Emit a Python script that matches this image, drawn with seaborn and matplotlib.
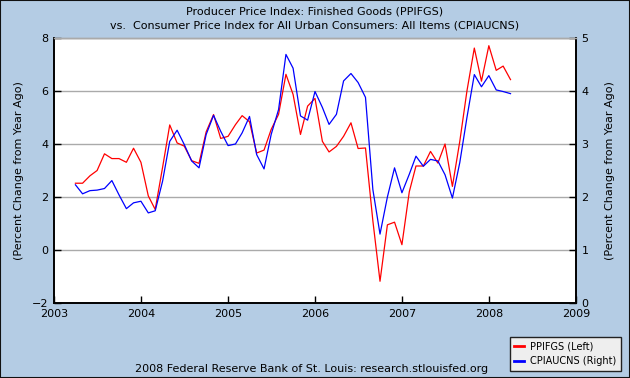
import matplotlib
matplotlib.use("Agg")
import matplotlib.pyplot as plt
import matplotlib.dates as mdates
from matplotlib.patches import Rectangle
from matplotlib.lines import Line2D
import pandas as pd
import seaborn as sns

# Monthly data, April 2003 .. April 2008 (percent change from year ago)
months = pd.date_range("2003-04-01", periods=61, freq="MS")

ppifgs = [2.52, 2.52, 2.80, 3.00, 3.63, 3.45, 3.45, 3.31, 3.84, 3.31,
          2.04, 1.53, 3.12, 4.72, 4.04, 3.92, 3.37, 3.27, 4.46, 5.11,
          4.21, 4.29, 4.73, 5.07, 4.84, 3.66, 3.77, 4.55, 5.12, 6.63,
          5.87, 4.36, 5.43, 5.72, 4.10, 3.70, 3.91, 4.29, 4.80, 3.83,
          3.85, 1.10, -1.18, 0.95, 1.05, 0.20, 2.20, 3.17, 3.17, 3.72,
          3.28, 4.00, 2.40, 4.10, 6.00, 7.62, 6.37, 7.71, 6.78, 6.94,
          6.43]

cpiaucns = [2.23, 2.06, 2.12, 2.13, 2.16, 2.31, 2.04, 1.78, 1.89, 1.92,
            1.70, 1.74, 2.30, 3.05, 3.26, 2.99, 2.68, 2.55, 3.18, 3.54,
            3.24, 2.97, 3.00, 3.21, 3.52, 2.80, 2.53, 3.18, 3.65, 4.69,
            4.43, 3.53, 3.45, 3.99, 3.69, 3.37, 3.56, 4.19, 4.33, 4.16,
            3.88, 2.14, 1.30, 2.00, 2.55, 2.08, 2.43, 2.77, 2.58, 2.71,
            2.68, 2.42, 1.98, 2.65, 3.50, 4.31, 4.08, 4.29, 4.02, 3.99,
            3.95]

left_ticks = [-2, 0, 2, 4, 6, 8]
right_ticks = [0, 1, 2, 3, 4, 5]
year_ticks = [str(y) for y in range(2003, 2010)]

BG = "#b4cce4"
GRID = "#aaaaaa"

df = pd.DataFrame({"date": months, "PPIFGS": ppifgs, "CPIAUCNS": cpiaucns})

plt.rcParams["font.family"] = ["DejaVu Sans"]
fig = plt.figure(figsize=(6.3, 3.78), dpi=100, facecolor=BG)
ax = fig.add_axes([54 / 630, 75 / 378, 522 / 630, 265 / 378])
ax.set_facecolor("white")
ax2 = ax.twinx()

sns.lineplot(data=df, x="date", y="PPIFGS", ax=ax, color="#ff0000", lw=0.9)
sns.lineplot(data=df, x="date", y="CPIAUCNS", ax=ax2, color="#0000ff", lw=0.9)

ax.set_ylim(-2, 8)
ax2.set_ylim(0, 5)
ax.set_yticks(left_ticks)
ax2.set_yticks(right_ticks)
ax.set_xlim(pd.Timestamp("2003-01-01"), pd.Timestamp("2009-01-01"))
ax.set_xticks([pd.Timestamp(f"{y}-01-01") for y in year_ticks])
ax.xaxis.set_major_formatter(mdates.DateFormatter("%Y"))

ax.yaxis.grid(True, color=GRID, lw=1.0)
ax.set_axisbelow(True)

for a in (ax, ax2):
    a.tick_params(direction="in", length=5, width=1, labelsize=8, pad=4)
    a.set_xlabel("")
    for side in ("left", "right", "bottom"):
        a.spines[side].set_linewidth(1.2)
        a.spines[side].set_edgecolor("black")
    a.spines["top"].set_edgecolor(GRID)
    a.spines["top"].set_linewidth(1.0)

ax.set_ylabel("(Percent Change from Year Ago)", fontsize=8, labelpad=6)
ax2.set_ylabel("(Percent Change from Year Ago)", fontsize=8, labelpad=12)

fig.text(0.5, 1 - 11 / 378, "Producer Price Index: Finished Goods (PPIFGS)",
         ha="center", va="center", fontsize=8)
fig.text(0.5, 1 - 25 / 378,
         "vs.  Consumer Price Index for All Urban Consumers: All Items (CPIAUCNS)",
         ha="center", va="center", fontsize=8)
fig.text(0.495, 1 - 369 / 378,
         "2008 Federal Reserve Bank of St. Louis: research.stlouisfed.org",
         ha="center", va="center", fontsize=8)

handles = [Line2D([], [], color="#ff0000", lw=2),
           Line2D([], [], color="#0000ff", lw=2)]
leg = fig.legend(handles, ["PPIFGS (Left)", "CPIAUCNS (Right)"],
                 loc="lower right", bbox_to_anchor=(626 / 630, 2 / 378),
                 fontsize=7, handlelength=1.0, handletextpad=0.6,
                 frameon=True, fancybox=False, borderpad=0.5, labelspacing=0.5)
leg.get_frame().set_facecolor("#eeeeee")
leg.get_frame().set_edgecolor("#222222")
leg.get_frame().set_alpha(1)

fig.patches.append(Rectangle((0, 0), 1, 1, transform=fig.transFigure,
                             fill=False, ec="#111111", lw=1.5))

fig.savefig("out.png", dpi=100, facecolor=BG)
